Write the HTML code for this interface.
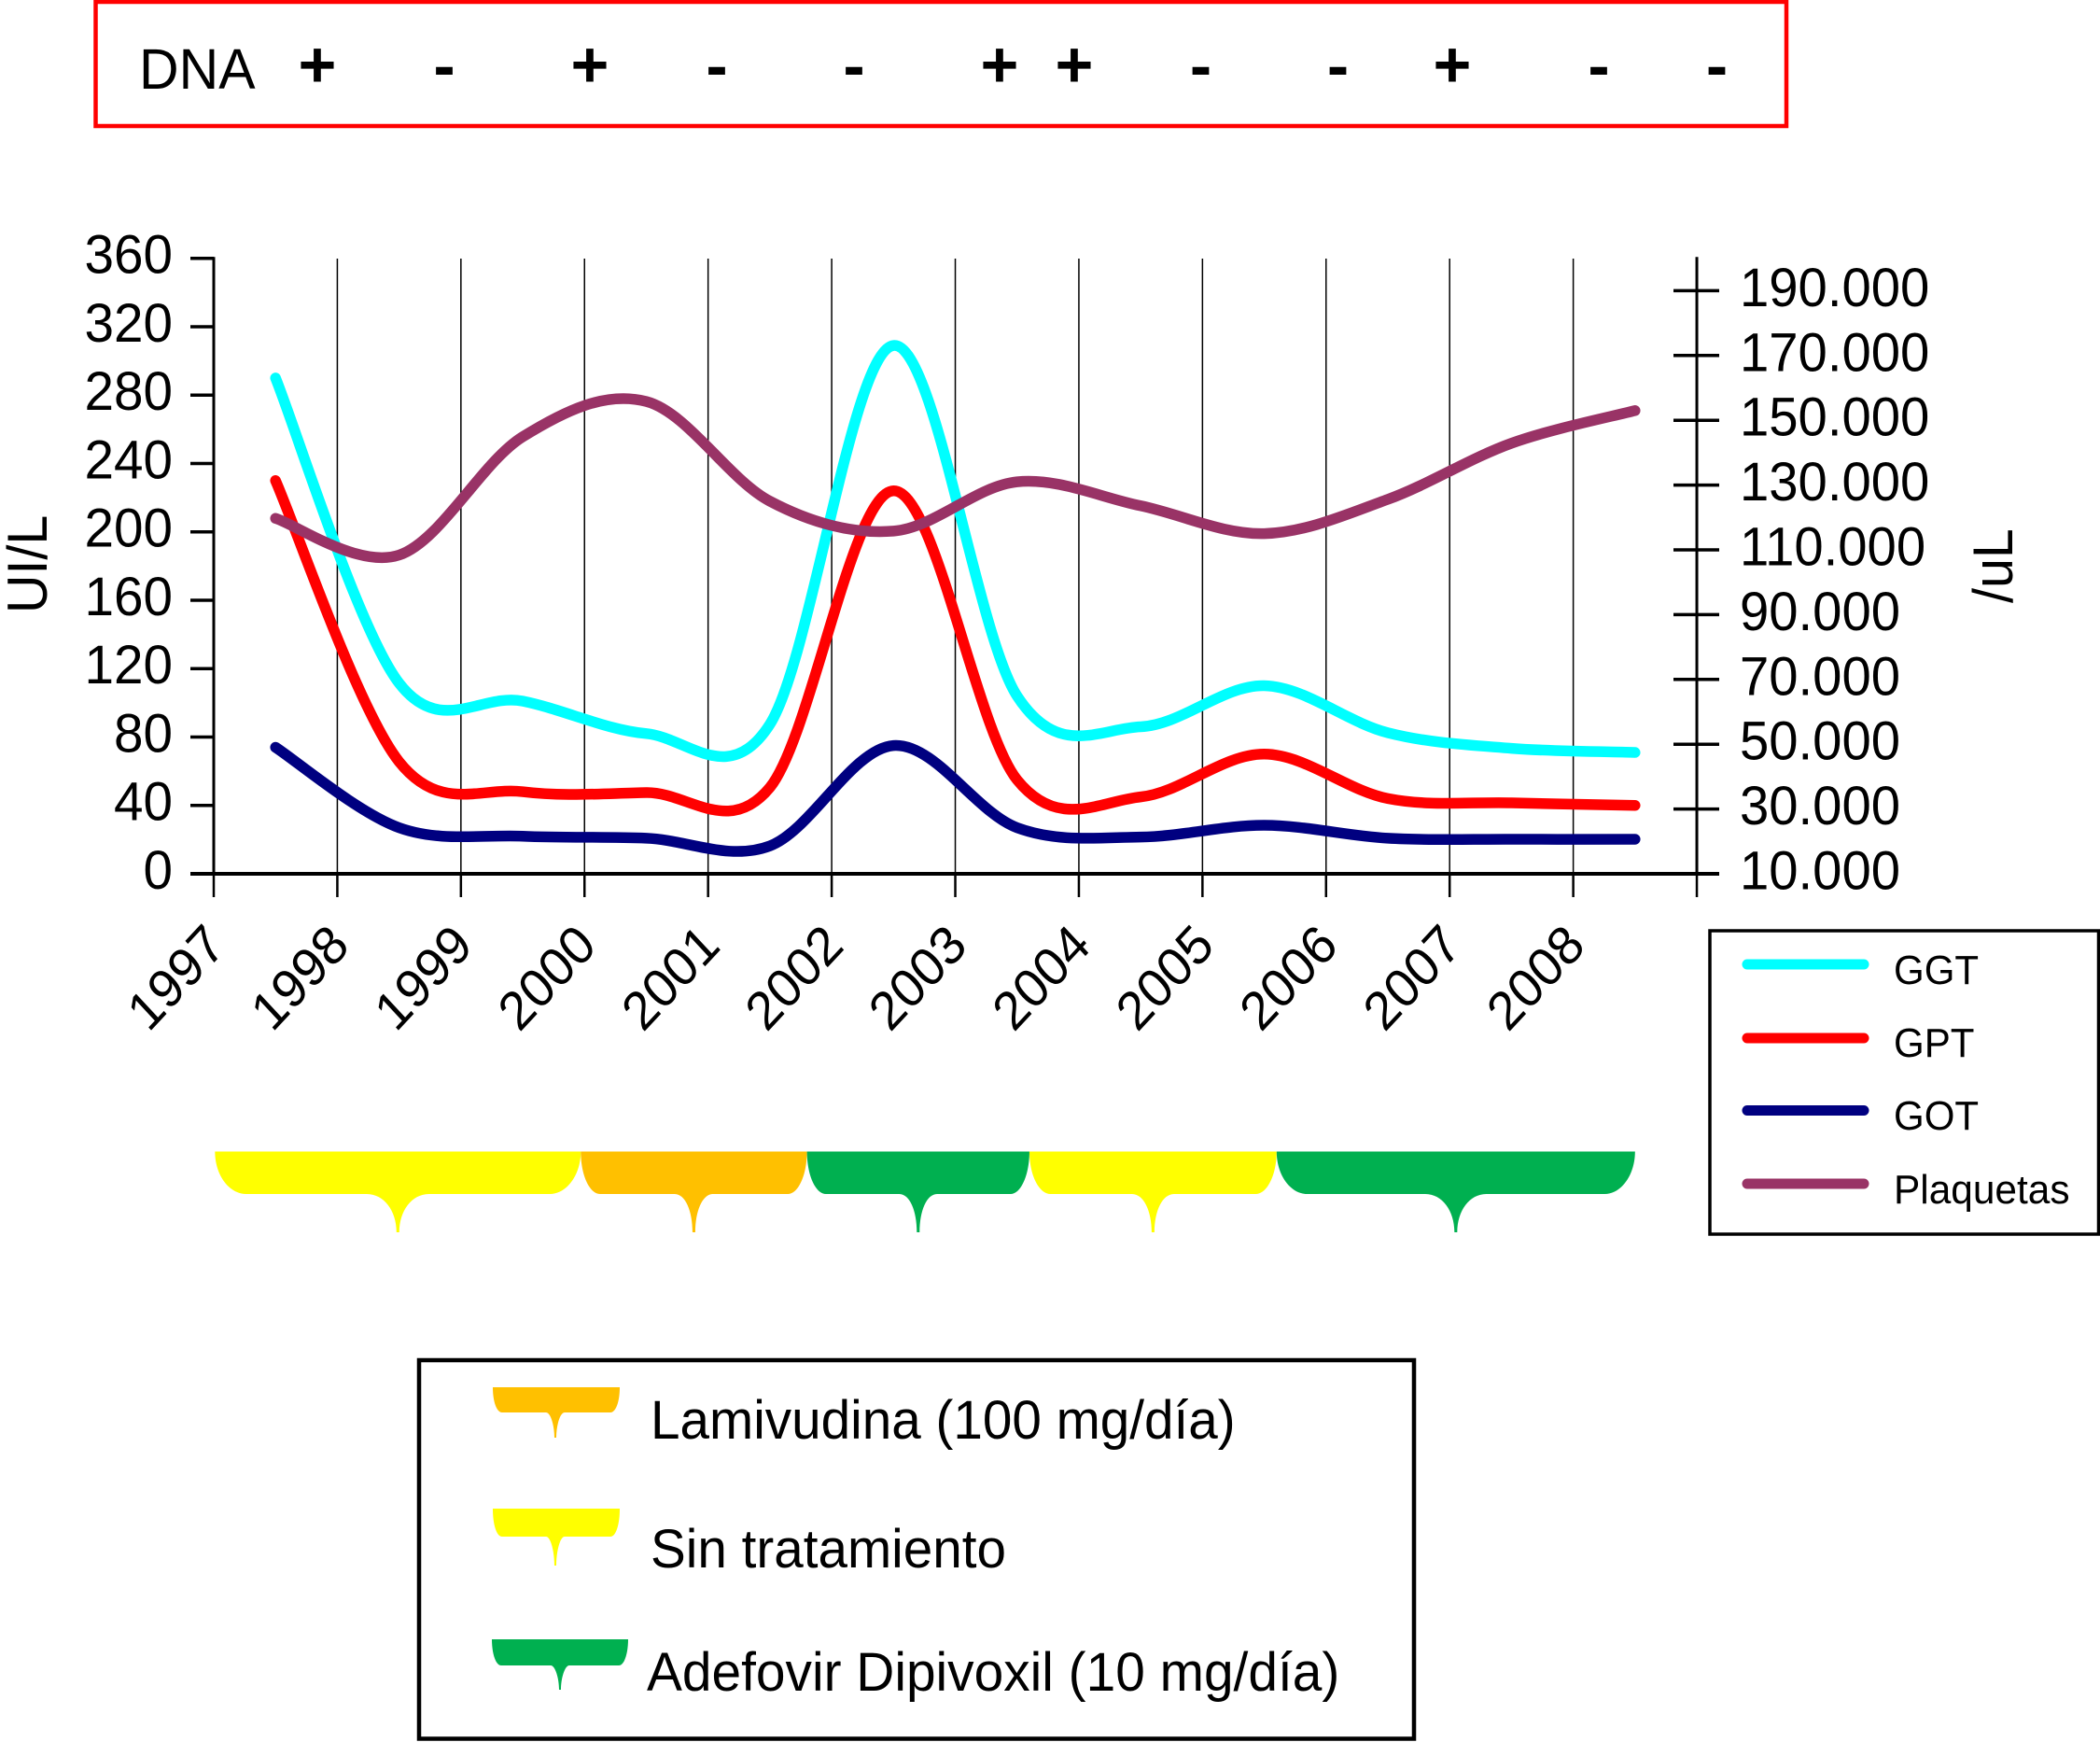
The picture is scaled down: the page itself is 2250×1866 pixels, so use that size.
<!DOCTYPE html>
<html lang="es">
<head>
<meta charset="utf-8">
<title>Evolución GGT, GPT, GOT y plaquetas</title>
<style>
html,body{margin:0;padding:0;background:#fff;width:2250px;height:1866px;overflow:hidden}
svg{display:block}
text{font-family:"Liberation Sans",sans-serif;fill:#000}
</style>
</head>
<body>
<svg id="chart" xmlns="http://www.w3.org/2000/svg" width="2250" height="1866" viewBox="0 0 2250 1866">
  <rect x="0" y="0" width="2250" height="1866" fill="#fff"/>
  <g>
    <rect x="102.5" y="2" width="1811.5" height="133" fill="none" stroke="#f00" stroke-width="4.5"/>
    <text font-size="61" transform="translate(149,95) scale(.967,1)">DNA</text>
    <g font-size="70" font-weight="bold" text-anchor="middle">
      <text x="340" y="93">+</text>
      <text x="476" y="94">-</text>
      <text x="632" y="93">+</text>
      <text x="768" y="94">-</text>
      <text x="915" y="94">-</text>
      <text x="1071" y="93">+</text>
      <text x="1151" y="93">+</text>
      <text x="1286.5" y="94">-</text>
      <text x="1433.5" y="94">-</text>
      <text x="1556" y="93">+</text>
      <text x="1713" y="94">-</text>
      <text x="1839.5" y="94">-</text>
    </g>
  </g>
  <g id="plot"></g>
  <text font-size="58.6" transform="translate(50,657) scale(1.03,.98) rotate(-90)">UI/L</text>
  <text font-size="58.6" transform="translate(2156,646) scale(1.03,.98) rotate(-90)">/uL</text>
  <g id="treatments"></g>
  <g>
    <rect x="1832" y="997" width="416.5" height="325" fill="none" stroke="#000" stroke-width="3.5"/>
    <line x1="1872" x2="1997" y1="1033" y2="1033" stroke="#0ff" stroke-width="11" stroke-linecap="round"/>
    <text font-size="43.5" transform="translate(2029,1054) scale(.967,1)">GGT</text>
    <line x1="1872" x2="1997" y1="1112" y2="1112" stroke="#f00" stroke-width="11" stroke-linecap="round"/>
    <text font-size="43.5" transform="translate(2029,1132) scale(.967,1)">GPT</text>
    <line x1="1872" x2="1997" y1="1189.5" y2="1189.5" stroke="#000080" stroke-width="11" stroke-linecap="round"/>
    <text font-size="43.5" transform="translate(2029,1210) scale(.967,1)">GOT</text>
    <line x1="1872" x2="1997" y1="1268" y2="1268" stroke="#993366" stroke-width="11" stroke-linecap="round"/>
    <text font-size="43.5" transform="translate(2029,1289) scale(.975,1)">Plaquetas</text>
  </g>
  <g>
    <rect x="449" y="1457" width="1066" height="405.5" fill="none" stroke="#000" stroke-width="4.5"/>
    <path fill="#FFC000" d="M528,1486 C528,1501 532,1513 538,1513 L585,1513 C590,1513 594,1527 594,1540 L596,1540 C596,1527 600,1513 605,1513 L654,1513 C660,1513 664,1501 664,1486 Z"/>
    <text font-size="58.6" transform="translate(697,1541) scale(.967,1)">Lamivudina (100 mg/día)</text>
    <path fill="#FFFF00" d="M528,1616 C528,1633 532,1646 538,1646 L585,1646 C590,1646 594,1662 594,1677 L596,1677 C596,1662 600,1646 605,1646 L654,1646 C660,1646 664,1633 664,1616 Z"/>
    <text font-size="58.6" transform="translate(697,1679) scale(.967,1)">Sin tratamiento</text>
    <path fill="#00B050" d="M527,1756 C527,1771 531,1784 537,1784 L590,1784 C595,1784 599,1798 599,1810 L601,1810 C601,1798 605,1784 610,1784 L663,1784 C669,1784 673,1771 673,1756 Z"/>
    <text font-size="58.6" transform="translate(693,1811) scale(.97,1)">Adefovir Dipivoxil (10 mg/día)</text>
  </g>
</svg>
<script>
// ---- chart data ----
const years = [1997,1998,1999,2000,2001,2002,2003,2004,2005,2006,2007,2008];
const leftTicks = [0,40,80,120,160,200,240,280,320,360];
const rightTicks = [10000,30000,50000,70000,90000,110000,130000,150000,170000,190000];
const rightTickLabels = ['10.000','30.000','50.000','70.000','90.000','110.000','130.000','150.000','170.000','190.000'];
const ggt = [290,111.5,101,82,87.5,309,104,86,110,82.5,73.4,71];
const gpt = [230,65.6,48,47.5,50.5,224,55,45,70,44,41.5,40];
const got = [74,27,22,20.8,16.3,75,27,21.5,28.4,20.8,20.2,20.2];
const plaquetas = [119700,108400,144900,155800,125000,115800,131000,123600,115000,125600,142900,153000];
const treatmentNames = ['sin-tratamiento-1','lamivudina','adefovir-1','sin-tratamiento-2','adefovir-2'];
const treatmentStart = [1997.01,1999.97,2001.80,2003.60,2005.60];
const treatmentEnd = [1999.97,2001.80,2003.60,2005.60,2008.50];
const treatmentColors = ['#FFFF00','#FFC000','#00B050','#FFFF00','#00B050'];

// ---- axis functions ----
const xAt = function (year) { return 229 + (year - 1997) * 132.42; };
const yLeft = function (v) { return 936 - v * 659.3 / 360; };
const yRight = function (v) { return 936 - (v - 10000) * 69.4 / 20000; };

const NS = 'http://www.w3.org/2000/svg';
const plot = document.getElementById('plot');
function make(tag, parent, attrs) {
  const el = document.createElementNS(NS, tag);
  for (const k in attrs) el.setAttribute(k, attrs[k]);
  parent.appendChild(el);
  return el;
}

// Catmull-Rom smoothing through the yearly readings
function smoothPath(pts) {
  let d = 'M' + pts[0][0].toFixed(1) + ',' + pts[0][1].toFixed(1);
  for (let i = 0; i < pts.length - 1; i++) {
    const p0 = pts[Math.max(i - 1, 0)], p1 = pts[i], p2 = pts[i + 1], p3 = pts[Math.min(i + 2, pts.length - 1)];
    const c1x = p1[0] + (p2[0] - p0[0]) / 6, c1y = p1[1] + (p2[1] - p0[1]) / 6;
    const c2x = p2[0] - (p3[0] - p1[0]) / 6, c2y = p2[1] - (p3[1] - p1[1]) / 6;
    d += ' C' + c1x.toFixed(1) + ',' + c1y.toFixed(1) + ' ' + c2x.toFixed(1) + ',' + c2y.toFixed(1) + ' ' + p2[0].toFixed(1) + ',' + p2[1].toFixed(1);
  }
  return d;
}

// gridlines and x ticks
years.concat([2009]).forEach(function (yr) {
  const x = xAt(yr);
  if (yr !== 1997 && yr !== 2009) {
    const grid = make('line', plot, {x1: x, x2: x, y1: 277, y2: 936, stroke: '#000', 'stroke-width': 1.5});
    
    
  }
  const tick = make('line', plot, {x1: x, x2: x, y1: 936, y2: 961, stroke: '#000', 'stroke-width': 2.5});
  
  
});
years.forEach(function (yr) {
  const px = xAt(yr) + 15, py = 1015.5;
  const label = make('text', plot, {'font-size': 58, 'text-anchor': 'end', transform: 'translate(' + px + ',' + py + ') scale(.93,1) rotate(-45)'});
  label.textContent = String(yr);
  
  
});

// axes
const leftAxis = make('line', plot, {x1: xAt(1997), x2: xAt(1997), y1: yLeft(360) - 1.5, y2: 936, stroke: '#000', 'stroke-width': 3});


const rightAxis = make('line', plot, {x1: xAt(2009), x2: xAt(2009), y1: yLeft(360) - 1.5, y2: 936, stroke: '#000', 'stroke-width': 3});


const baseline = make('line', plot, {x1: 204, x2: 1842, y1: 936, y2: 936, stroke: '#000', 'stroke-width': 4});



leftTicks.forEach(function (v) {
  const y = yLeft(v);
  if (v !== 0) {
    const tick = make('line', plot, {x1: 204, x2: xAt(1997), y1: y, y2: y, stroke: '#000', 'stroke-width': 3.5});
    
    
  }
  const label = make('text', plot, {'font-size': 58.6, 'text-anchor': 'end', transform: 'translate(185,' + (y + 16) + ') scale(.967,1)'});
  label.textContent = String(v);
  
  
});
rightTicks.forEach(function (v, i) {
  const y = yRight(v);
  if (i !== 0) {
    const tick = make('line', plot, {x1: 1793, x2: 1842, y1: y, y2: y, stroke: '#000', 'stroke-width': 3.5});
    
    
  }
  const label = make('text', plot, {'font-size': 58.6, transform: 'translate(1864,' + (y + 16.5) + ') scale(.96,1)'});
  label.textContent = rightTickLabels[i];
  
  
});

// series
const ggtLine = make('path', plot, {d: smoothPath(ggt.map(function (v, i) { return [xAt(years[i] + 0.5), yLeft(v)]; })), fill: 'none', stroke: '#00FFFF', 'stroke-width': 11.5, 'stroke-linecap': 'round', 'stroke-linejoin': 'round'});


const gptLine = make('path', plot, {d: smoothPath(gpt.map(function (v, i) { return [xAt(years[i] + 0.5), yLeft(v)]; })), fill: 'none', stroke: '#FF0000', 'stroke-width': 11.5, 'stroke-linecap': 'round', 'stroke-linejoin': 'round'});


const gotLine = make('path', plot, {d: smoothPath(got.map(function (v, i) { return [xAt(years[i] + 0.5), yLeft(v)]; })), fill: 'none', stroke: '#000080', 'stroke-width': 11.5, 'stroke-linecap': 'round', 'stroke-linejoin': 'round'});


const plaqLine = make('path', plot, {d: smoothPath(plaquetas.map(function (v, i) { return [xAt(years[i] + 0.5), yRight(v)]; })), fill: 'none', stroke: '#993366', 'stroke-width': 11.5, 'stroke-linecap': 'round', 'stroke-linejoin': 'round'});



// treatment braces
const tGroup = document.getElementById('treatments');
treatmentNames.forEach(function (name, i) {
  const x0 = xAt(treatmentStart[i]), x1 = xAt(treatmentEnd[i]);
  const mid = (x0 + x1) / 2, r = (x1 - x0) * 0.085;
  const top = 1233.5, body = 1279, tip = 1320;
  const d = 'M' + x0 + ',' + top +
    ' C' + x0 + ',' + (top + 25) + ' ' + (x0 + r * 0.45) + ',' + body + ' ' + (x0 + r) + ',' + body +
    ' L' + (mid - r) + ',' + body +
    ' C' + (mid - r * 0.45) + ',' + body + ' ' + (mid - 1.5) + ',' + (body + 18) + ' ' + (mid - 1.5) + ',' + tip +
    ' L' + (mid + 1.5) + ',' + tip +
    ' C' + (mid + 1.5) + ',' + (body + 18) + ' ' + (mid + r * 0.45) + ',' + body + ' ' + (mid + r) + ',' + body +
    ' L' + (x1 - r) + ',' + body +
    ' C' + (x1 - r * 0.45) + ',' + body + ' ' + x1 + ',' + (top + 25) + ' ' + x1 + ',' + top + ' Z';
  const brace = make('path', tGroup, {d: d, fill: treatmentColors[i]});
  
  
});
</script>
</body>
</html>
